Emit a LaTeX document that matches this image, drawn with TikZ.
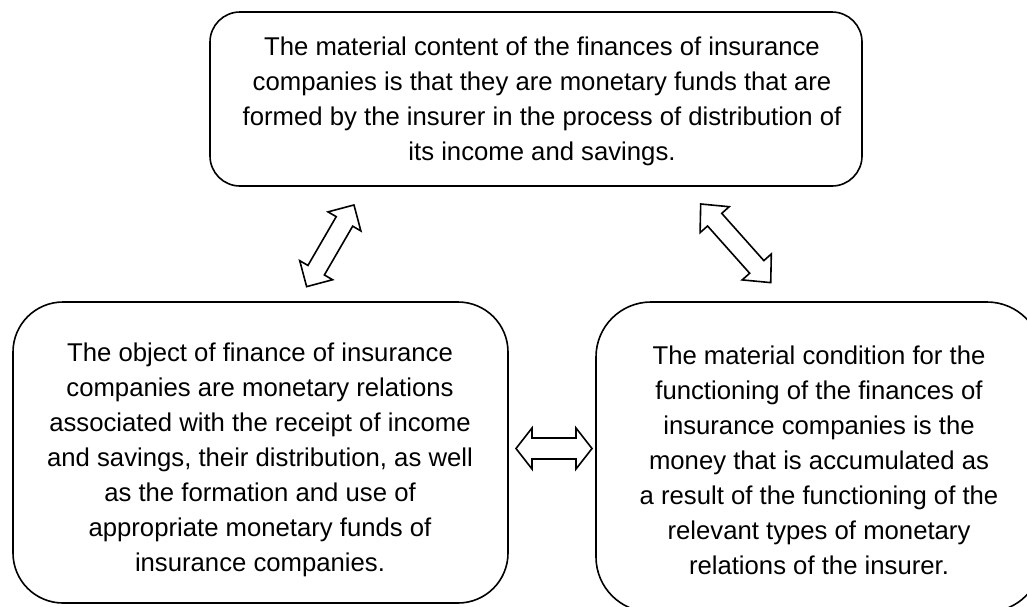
\documentclass[tikz,border=0pt]{standalone}
\usepackage{fontspec}
\setmainfont{Liberation Sans}
\newcommand\dblarr[7]{% cx, cy, angle, L, W, s, h
\draw[dbl, shift={(#1,#2)}, rotate=#3]
  ({-#4/2},0) -- ({-#4/2+#7},{#5/2}) -- ({-#4/2+#7},{#6/2}) -- ({#4/2-#7},{#6/2})
  -- ({#4/2-#7},{#5/2}) -- ({#4/2},0) -- ({#4/2-#7},{-#5/2}) -- ({#4/2-#7},{-#6/2})
  -- ({-#4/2+#7},{-#6/2}) -- ({-#4/2+#7},{-#5/2}) -- cycle;}
\begin{document}
\begin{tikzpicture}[x=1pt,y=-1pt,
  box/.style={draw, line width=1.6pt, rounded corners=#1, inner sep=0pt},
  txt/.style={align=center, font=\fontsize{25.7}{35}\selectfont, inner sep=0pt},
  dbl/.style={draw, line width=1.6pt, line join=miter, fill=white}]
\clip (0,0) rectangle (1027,606);
\useasboundingbox (0,0) rectangle (1027,606);
\node[box=30pt, minimum width=652pt, minimum height=174pt] (top) at (536,99) {};
\node[box=50pt, minimum width=495pt, minimum height=301pt] (left) at (260.5,452.5) {};
\node[box=55pt, minimum width=446pt, minimum height=310pt] (right) at (819,457) {};
\node[txt] (toptext) at (542,101) {The material content of the finances of insurance\\companies is that they are monetary funds that are\\formed by the insurer in the process of distribution of\\its income and savings.};
\node[txt] (lefttext) at (260,460) {The object of finance of insurance\\companies are monetary relations\\associated with the receipt of income\\and savings, their distribution, as well\\as the formation and use of\\appropriate monetary funds of\\insurance companies.};
\node[txt] (righttext) at (819,460) {The material condition for the\\functioning of the finances of\\insurance companies is the\\money that is accumulated as\\a result of the functioning of the\\relevant types of monetary\\relations of the insurer.};
\dblarr{330.3}{245.8}{59.9}{94.4}{38}{19}{19}
\dblarr{735.7}{243.3}{-48.3}{105.3}{39}{19}{21}
\dblarr{554}{448.5}{0}{76}{41}{21}{16}
\end{tikzpicture}
\end{document}
